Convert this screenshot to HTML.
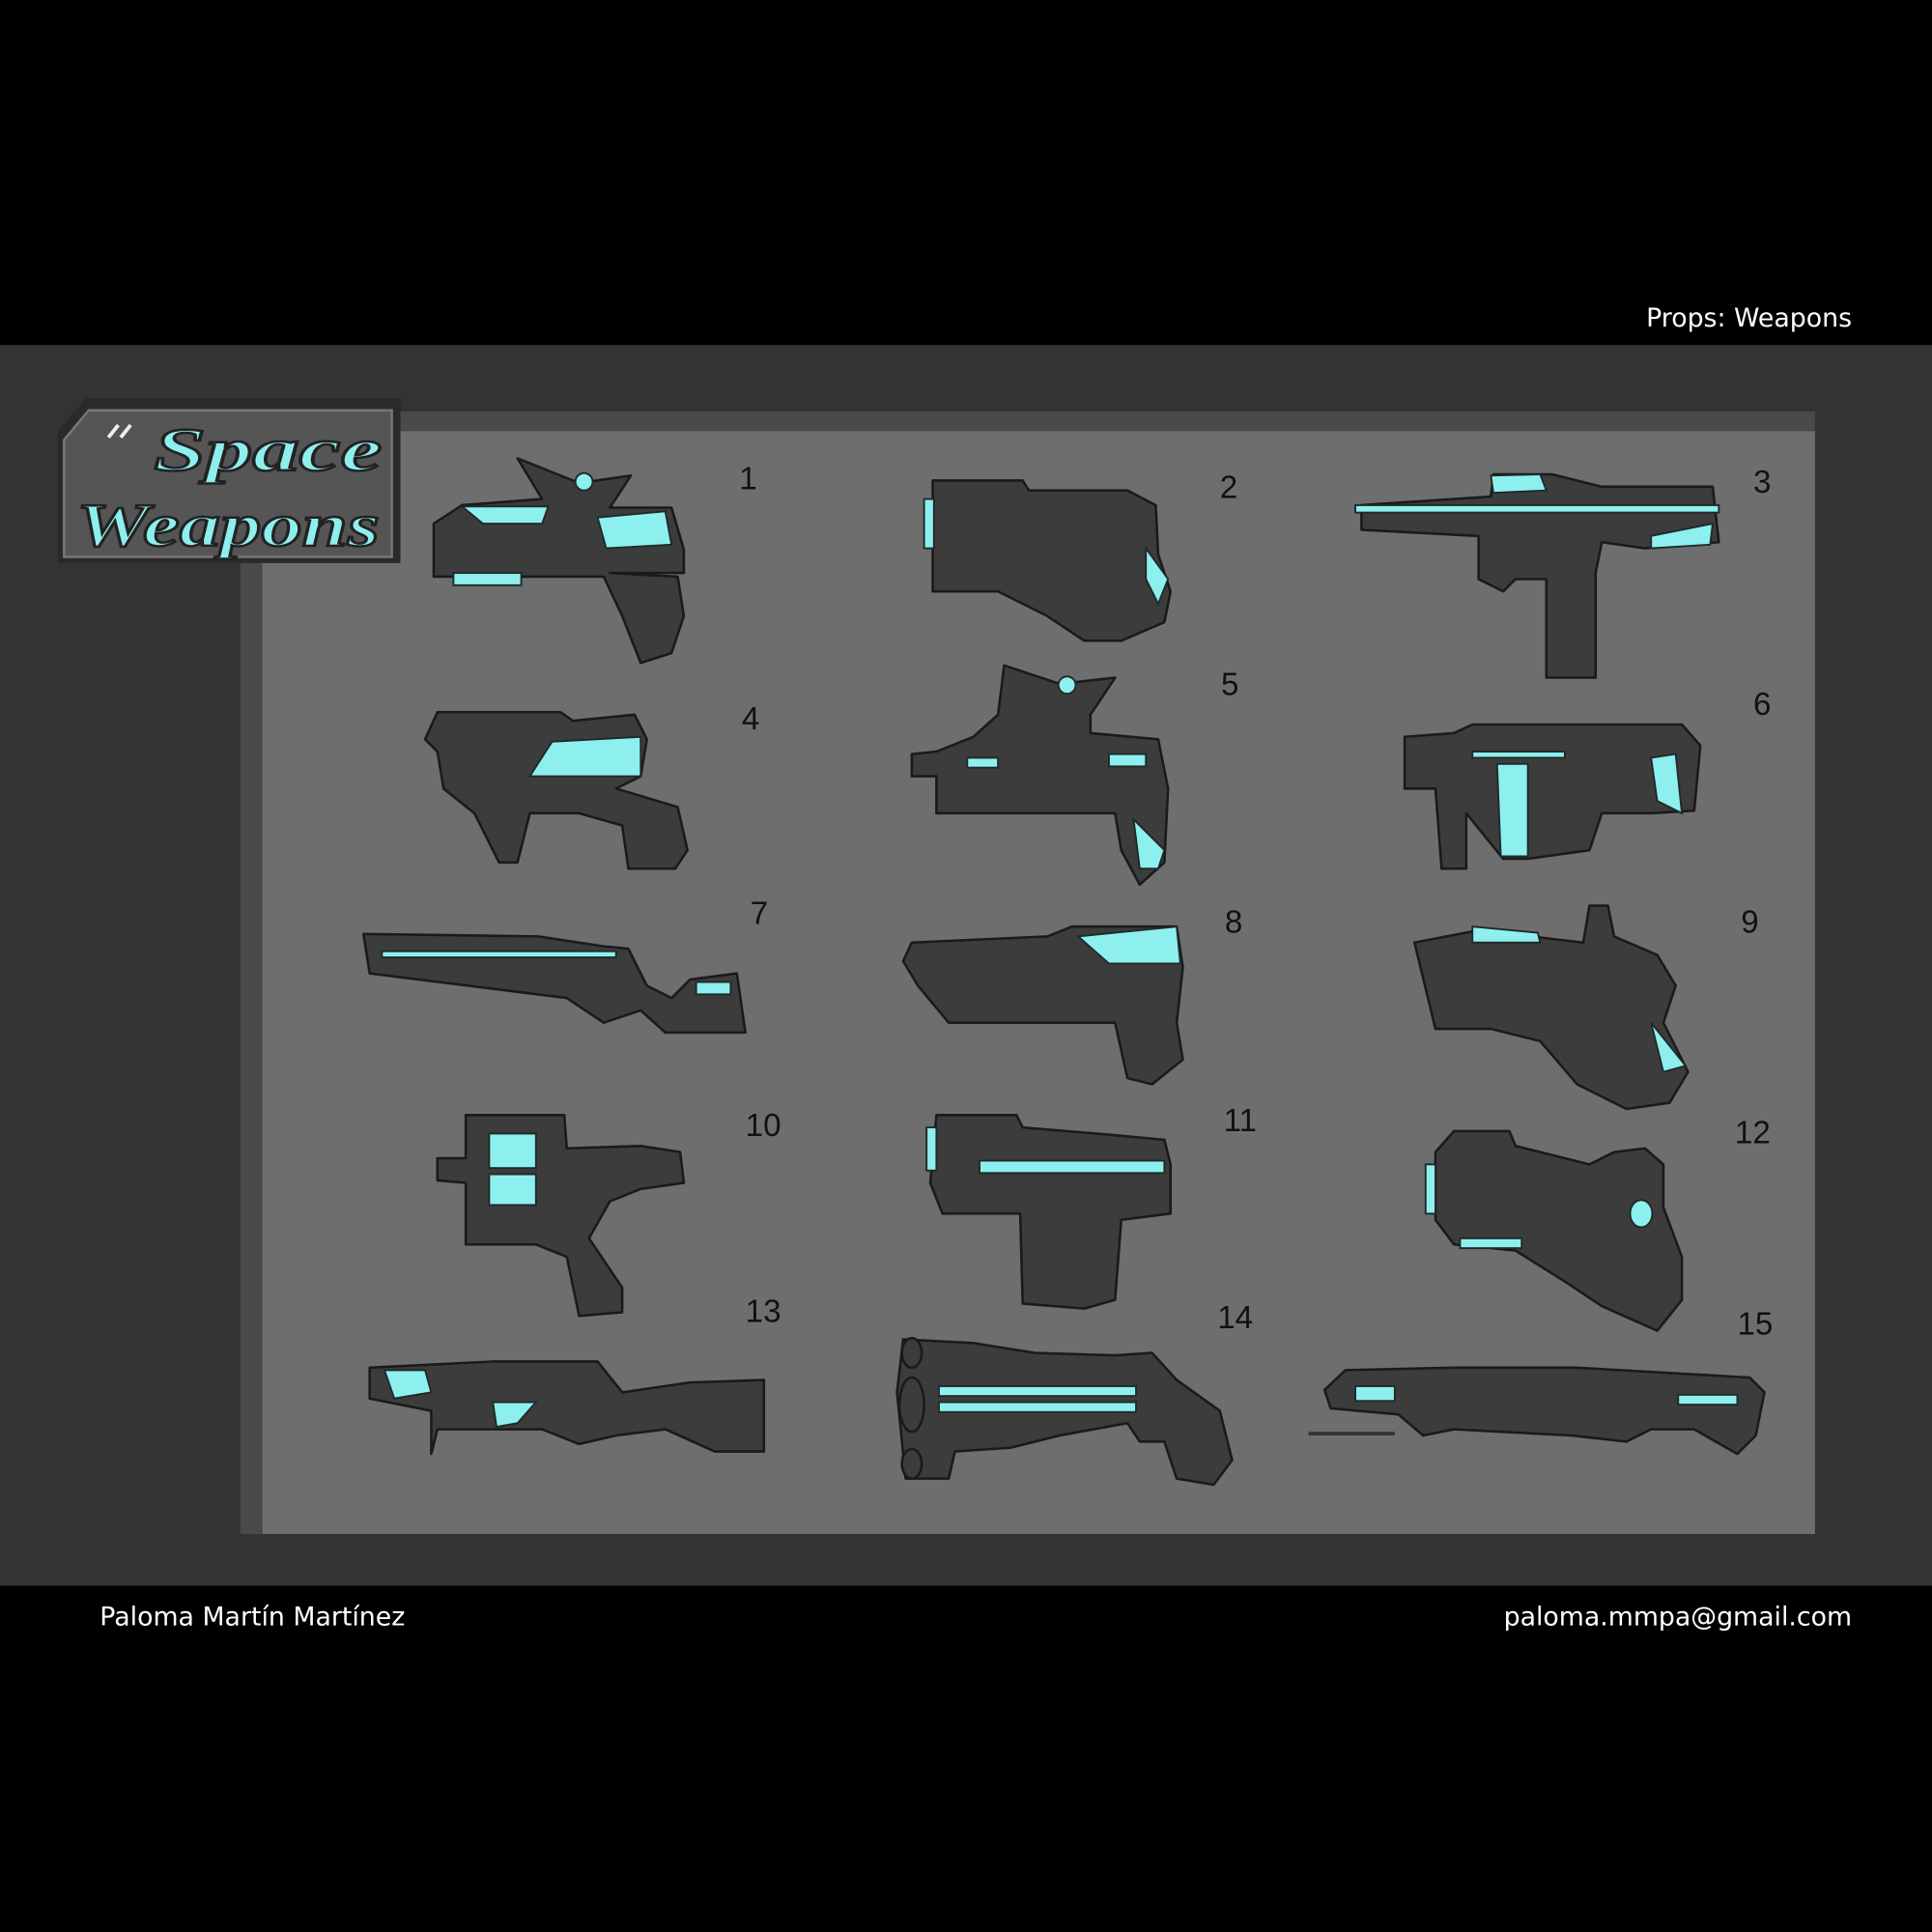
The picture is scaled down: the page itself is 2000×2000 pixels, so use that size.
<!DOCTYPE html>
<html><head><meta charset="utf-8"><style>
html,body{margin:0;padding:0;background:#000;}
svg{display:block}
.g{fill:#3c3c3c;stroke:#1a1a1a;stroke-width:2;stroke-linejoin:round}
.c{fill:#8ef0ee;stroke:#1f2a2a;stroke-width:1.5}
.n{font-family:"Liberation Sans",sans-serif;font-size:26px;fill:#111;}
.t{font-family:"DejaVu Sans","Liberation Sans",sans-serif;fill:#fff}
</style></head><body>
<svg width="2000" height="2000" viewBox="0 0 1568 1568" xmlns="http://www.w3.org/2000/svg">
<rect width="1568" height="1568" fill="#000"/>
<rect x="0" y="280" width="1568" height="1007" fill="#333"/>
<rect x="195" y="334" width="1278" height="911" fill="#4a4a4a"/>
<rect x="213" y="350" width="1260" height="895" fill="#6e6e6e"/>
<text class="t" x="1503" y="265" font-size="21" text-anchor="end">Props: Weapons</text>
<text class="t" x="81" y="1319" font-size="21">Paloma Martín Martínez</text>
<text class="t" x="1503" y="1319" font-size="21" text-anchor="end">paloma.mmpa@gmail.com</text>

<!-- badge -->
<polygon points="70,323 325,323 325,457 47,457 47,350" fill="#2a2a2a"/>
<polygon points="72,333 318,333 318,452 52,452 52,357" fill="#555" stroke="#777" stroke-width="2"/>
<text x="125" y="382" font-family="Liberation Serif,serif" font-style="italic" font-weight="bold" font-size="50" fill="#8ef0ee" stroke="#222" stroke-width="2" textLength="185" lengthAdjust="spacingAndGlyphs">Space</text>
<text x="62" y="443" font-family="Liberation Serif,serif" font-style="italic" font-weight="bold" font-size="50" fill="#8ef0ee" stroke="#222" stroke-width="2" textLength="246" lengthAdjust="spacingAndGlyphs">Weapons</text>
<path d="M88,355 L96,345 M98,355 L106,345" stroke="#eee" stroke-width="3"/>

<!-- numbers -->
<g class="n">
<text x="600" y="397">1</text><text x="990" y="404">2</text><text x="1423" y="400">3</text>
<text x="602" y="592">4</text><text x="991" y="564">5</text><text x="1423" y="580">6</text>
<text x="609" y="750">7</text><text x="994" y="757">8</text><text x="1413" y="757">9</text>
<text x="605" y="922">10</text><text x="993" y="918">11</text><text x="1408" y="928">12</text>
<text x="605" y="1073">13</text><text x="988" y="1078">14</text><text x="1410" y="1083">15</text>
</g>

<!-- 1 -->
<polygon class="g" points="420,372 470,392 512,386 495,412 545,412 555,446 555,465 495,465 550,468 555,500 545,530 520,538 505,500 490,468 352,468 352,425 375,410 440,405" />
<polygon class="c" points="375,411 445,411 440,425 392,425"/><polygon class="c" points="485,420 540,415 545,442 492,445"/>
<rect class="c" x="368" y="465" width="55" height="10"/><circle class="c" cx="474" cy="391" r="7"/>
<!-- 2 -->
<polygon class="g" points="757,390 830,390 835,398 915,398 938,410 940,450 950,480 945,505 910,520 880,520 850,500 810,480 757,480"/>
<rect class="c" x="750" y="405" width="8" height="40"/><polygon class="c" points="930,445 948,470 940,490 930,470"/>
<!-- 3 -->
<polygon class="g" points="1105,410 1210,403 1212,385 1260,385 1300,395 1390,395 1395,440 1335,445 1300,440 1295,465 1295,550 1255,550 1255,470 1230,470 1220,480 1200,470 1200,435 1105,430"/>
<rect class="c" x="1100" y="410" width="295" height="6"/><polygon class="c" points="1210,386 1250,385 1255,398 1212,400"/><polygon class="c" points="1340,435 1390,425 1388,442 1340,445"/>
<!-- 4 -->
<polygon class="g" points="355,578 455,578 465,585 515,580 525,600 520,630 500,640 550,655 558,690 548,705 510,705 505,670 470,660 430,660 420,700 405,700 385,660 360,640 355,610 345,600"/>
<polygon class="c" points="448,602 520,598 520,630 430,630"/>
<!-- 5 -->
<polygon class="g" points="815,540 860,555 905,550 885,580 885,595 940,600 948,640 945,700 925,718 910,690 905,660 860,660 800,660 760,660 760,630 740,630 740,612 760,610 790,598 810,580"/>
<rect class="c" x="785" y="615" width="25" height="8"/><rect class="c" x="900" y="612" width="30" height="10"/>
<polygon class="c" points="920,665 945,690 940,705 925,705"/><circle class="c" cx="866" cy="556" r="7"/>
<!-- 6 -->
<polygon class="g" points="1140,598 1180,595 1195,588 1365,588 1380,605 1375,658 1340,660 1300,660 1290,690 1240,697 1220,697 1190,660 1190,705 1170,705 1165,640 1140,640"/>
<polygon class="c" points="1215,620 1240,620 1240,695 1218,695"/><polygon class="c" points="1340,615 1360,612 1365,660 1345,650"/><rect class="c" x="1195" y="610" width="75" height="5"/>
<!-- 7 -->
<polygon class="g" points="295,758 437,760 490,768 510,770 525,800 545,810 560,795 598,790 605,838 540,838 520,820 490,830 460,810 380,800 300,790"/>
<rect class="c" x="310" y="772" width="190" height="5"/><rect class="c" x="565" y="797" width="28" height="10"/>
<!-- 8 -->
<polygon class="g" points="740,765 850,760 870,752 955,752 960,785 955,830 960,860 935,880 915,875 905,830 870,830 820,830 770,830 745,800 733,780"/>
<polygon class="c" points="875,760 955,752 958,782 900,782"/>
<!-- 9 -->
<polygon class="g" points="1148,765 1200,755 1285,765 1290,735 1305,735 1310,760 1345,775 1360,800 1350,830 1370,870 1355,895 1320,900 1280,880 1250,845 1210,835 1165,835"/>
<polygon class="c" points="1195,752 1248,757 1250,765 1195,765"/><polygon class="c" points="1340,830 1368,865 1350,870"/>
<!-- 10 -->
<polygon class="g" points="378,905 458,905 460,932 520,930 552,935 555,960 520,965 495,975 478,1005 505,1045 505,1065 470,1068 460,1020 435,1010 378,1010 378,960 355,958 355,940 378,940"/>
<rect class="c" x="397" y="920" width="38" height="28"/><rect class="c" x="397" y="953" width="38" height="25"/>
<!-- 11 -->
<polygon class="g" points="760,905 825,905 830,915 890,920 945,925 950,945 950,985 910,990 905,1055 880,1062 830,1058 828,985 765,985 755,960"/>
<rect class="c" x="752" y="915" width="8" height="35"/><rect class="c" x="795" y="942" width="150" height="10"/>
<!-- 12 -->
<polygon class="g" points="1165,935 1180,918 1225,918 1230,930 1290,945 1310,935 1335,932 1350,945 1350,980 1365,1020 1365,1055 1345,1080 1300,1060 1270,1040 1230,1015 1180,1010 1165,990"/>
<rect class="c" x="1157" y="945" width="8" height="40"/><ellipse class="c" cx="1332" cy="985" rx="9" ry="11"/><rect class="c" x="1185" y="1005" width="50" height="8"/>
<!-- 13 -->
<polygon class="g" points="300,1110 400,1105 485,1105 505,1130 560,1122 620,1120 620,1178 580,1178 540,1160 500,1165 470,1172 440,1160 405,1160 355,1160 350,1180 350,1145 300,1135"/>
<polygon class="c" points="312,1112 345,1112 350,1130 320,1135"/><polygon class="c" points="400,1138 435,1138 420,1155 403,1158"/>
<!-- 14 -->
<polygon class="g" points="733,1087 790,1090 840,1098 905,1100 935,1098 955,1120 990,1145 1000,1185 985,1205 955,1200 945,1170 925,1170 915,1155 860,1165 820,1175 775,1178 770,1200 735,1200 728,1130"/>
<rect class="c" x="762" y="1125" width="160" height="8"/><rect class="c" x="762" y="1138" width="160" height="8"/>
<ellipse class="g" cx="740" cy="1098" rx="8" ry="12"/><ellipse class="g" cx="740" cy="1140" rx="10" ry="22"/><ellipse class="g" cx="740" cy="1188" rx="8" ry="12"/>
<!-- 15 -->
<polygon class="g" points="1092,1112 1180,1110 1280,1110 1420,1118 1432,1130 1425,1165 1410,1180 1375,1160 1340,1160 1320,1170 1275,1165 1180,1160 1155,1165 1135,1148 1080,1143 1075,1128"/>
<rect class="c" x="1100" y="1125" width="32" height="12"/><rect class="c" x="1362" y="1132" width="48" height="8"/>
<rect x="1062" y="1162" width="70" height="3" fill="#333"/>
</svg>
</body></html>
